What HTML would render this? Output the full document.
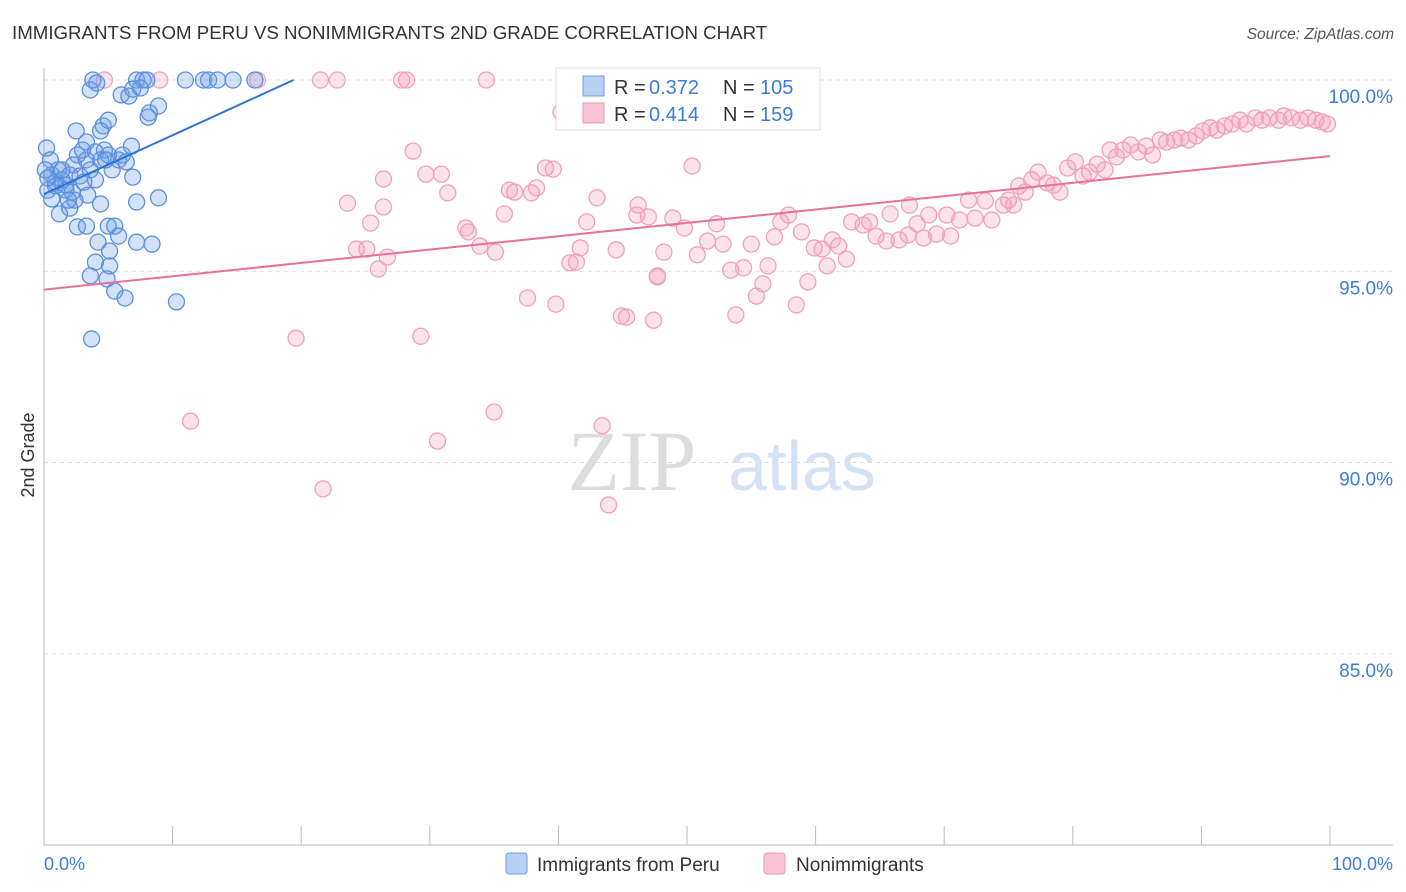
<!DOCTYPE html>
<html><head><meta charset="utf-8">
<style>
body{margin:0;background:#fff;font-family:"Liberation Sans",sans-serif;}
svg{display:block}
</style></head>
<body>
<svg id="chart" width="1406" height="892">
<text x="12" y="39" font-size="18.7" fill="#333">IMMIGRANTS FROM PERU VS NONIMMIGRANTS 2ND GRADE CORRELATION CHART</text>
<text x="1394" y="39" font-size="15.5" fill="#555" text-anchor="end" font-style="italic">Source: ZipAtlas.com</text>
<text x="0" y="0" font-size="18" fill="#333" transform="translate(34,455) rotate(-90)" text-anchor="middle">2nd Grade</text>
<g id="grid"></g>
<g id="xticks"></g>
<g>
<text x="632" y="490" font-size="86" fill="#ddd" text-anchor="middle" font-family="Liberation Serif,serif">ZIP</text>
<text x="802" y="490" font-size="70" fill="#d4e2f4" text-anchor="middle">atlas</text>
</g>
<g id="pinkPts"></g>
<g id="bluePts"></g>
<g id="trends"></g>
<g>
<rect x="556" y="68" width="264" height="62" fill="#fff" stroke="#ddd"/>
<rect x="583" y="76" width="21" height="20" fill="#b8d0f4" stroke="#6a9be0"/>
<rect x="583" y="103" width="21" height="20" fill="#f8c4d4" stroke="#eb9ab5"/>
<text x="614" y="94" font-size="20" fill="#333">R =</text>
<text x="649" y="94" font-size="20" fill="#3b7dd8">0.372</text>
<text x="723" y="94" font-size="20" fill="#333">N =</text>
<text x="760" y="94" font-size="20" fill="#3b7dd8">105</text>
<text x="614" y="121" font-size="20" fill="#333">R =</text>
<text x="649" y="121" font-size="20" fill="#3b7dd8">0.414</text>
<text x="723" y="121" font-size="20" fill="#333">N =</text>
<text x="760" y="121" font-size="20" fill="#3b7dd8">159</text>
</g>
<g>
<rect x="506" y="853" width="21" height="21" rx="3" fill="#b8d0f4" stroke="#6a9be0"/>
<text x="537" y="871" font-size="19" fill="#333">Immigrants from Peru</text>
<rect x="764" y="853" width="21" height="21" rx="3" fill="#f8c4d4" stroke="#eb9ab5"/>
<text x="796" y="871" font-size="19" fill="#333">Nonimmigrants</text>
</g>
<text x="44" y="870" font-size="18" fill="#3b7dd8">0.0%</text>
<text x="1393" y="870" font-size="18" fill="#3b7dd8" text-anchor="end">100.0%</text>
</svg>
<script>
const yTicks=[100,95,90,85];
const yTickLabels=["100.0%","95.0%","90.0%","85.0%"];
const xTicks=[0,10,20,30,40,50,60,70,80,90,100];
const pinkX=[4.7,9.0,16.6,21.5,22.8,27.8,28.2,34.4,40.2,28.7,26.4,29.7,30.9,31.4,23.6,26.4,25.4,24.3,25.1,26.7,26.0,32.8,33.0,33.9,35.1,35.8,36.2,36.6,37.9,38.3,39.0,39.6,43.0,42.2,41.7,40.9,41.4,44.5,46.1,46.2,47.0,48.9,49.8,48.2,47.7,50.4,51.6,50.8,52.3,52.8,53.4,54.4,55.0,56.8,57.3,57.9,58.9,56.3,55.9,55.4,53.8,59.4,58.5,59.9,60.5,61.3,61.8,60.9,62.4,62.8,63.7,64.2,64.7,65.8,65.5,66.5,67.3,67.2,67.9,68.4,69.4,68.8,70.2,70.5,71.2,71.9,72.4,73.2,73.7,74.6,75.0,75.4,75.8,76.3,76.8,77.3,78.0,78.5,79.0,79.6,80.2,80.8,81.3,81.9,82.5,82.9,83.4,83.9,84.5,85.1,85.7,86.2,86.8,87.3,87.9,88.4,89.0,89.6,90.1,90.7,91.2,91.8,92.4,93.0,93.5,94.2,94.7,95.3,96.0,96.4,97.0,97.7,98.3,98.9,99.4,99.8,19.6,11.4,29.3,30.6,35.0,21.7,43.4,43.9,37.6,39.8,44.9,45.3,47.4,47.7];
const pinkY=[100,100,100,100,100,100,100,100,99.16,98.14,97.41,97.54,97.54,97.05,96.78,96.68,96.26,95.58,95.58,95.37,95.06,96.13,96.03,95.66,95.50,96.50,97.12,97.07,97.05,97.18,97.70,97.67,96.92,96.29,95.61,95.22,95.24,95.56,96.47,96.73,96.42,96.39,96.13,95.50,94.88,97.75,95.79,95.43,96.24,95.71,95.03,95.09,95.71,95.90,96.29,96.47,96.03,95.14,94.67,94.35,93.86,94.72,94.12,95.61,95.58,95.82,95.66,95.14,95.32,96.29,96.21,96.29,95.92,96.50,95.79,95.82,96.73,95.95,96.24,95.87,95.97,96.47,96.47,95.92,96.34,96.86,96.39,96.84,96.34,96.73,96.86,96.73,97.23,97.07,97.39,97.59,97.31,97.25,97.07,97.70,97.86,97.49,97.59,97.80,97.65,98.17,97.99,98.17,98.30,98.12,98.27,98.04,98.43,98.38,98.43,98.48,98.43,98.54,98.67,98.75,98.69,98.80,98.85,98.95,98.85,99.01,98.95,99.01,98.95,99.06,99.01,98.95,99.01,98.95,98.90,98.85,93.25,91.08,93.30,90.56,91.32,89.31,90.96,88.89,94.30,94.14,93.83,93.80,93.72,94.85];
const blueX=[0.2,0.5,0.6,0.9,0.3,1.1,1.4,1.7,2.0,2.3,2.6,3.0,3.3,3.6,4.0,4.4,4.7,5.0,5.3,5.8,6.1,6.4,6.8,6.9,3.4,2.4,2.0,1.2,2.6,3.3,4.4,5.0,5.5,5.8,4.2,5.1,7.2,8.4,8.9,7.2,4.0,5.1,3.6,4.9,5.5,6.3,10.3,3.7,2.5,3.3,4.6,5.0,4.4,3.6,3.8,4.1,6.0,6.6,6.9,7.2,7.7,8.0,7.5,8.2,8.9,8.1,11.0,12.4,12.8,13.5,14.7,16.4,0.6,1.7,2.2,0.9,0.3,0.1,1.4,2.8,4.0,4.8,1.9,3.1];
const blueY=[98.22,97.91,97.52,97.33,97.12,97.65,97.39,97.25,97.52,97.78,98.04,98.17,97.91,97.65,97.39,97.91,98.17,98.04,97.65,97.91,98.04,97.86,98.27,97.46,96.99,96.86,96.65,96.50,96.16,96.18,96.76,96.18,96.18,95.92,95.76,95.53,95.76,95.71,96.92,96.81,95.24,95.14,94.88,94.80,94.48,94.30,94.20,93.23,98.67,98.38,98.80,98.95,98.67,99.74,100,99.92,99.61,99.58,99.76,100,100,100,99.79,99.14,99.32,99.03,100,100,100,100,100,100,96.89,97.12,97.07,97.23,97.44,97.65,97.65,97.49,98.12,97.91,96.86,97.33];
const blueTrend=[97.02,100.0];
const blueTrendX=[0,19.4];
const pinkTrend=[94.52,98.01];
const pinkTrendX=[0,100];

const X=v=>44+v*12.86;
const Y=v=>80+(100-v)*38.25;
const NS="http://www.w3.org/2000/svg";
function mk(tag,attrs,parent){const e=document.createElementNS(NS,tag);for(const k in attrs)e.setAttribute(k,attrs[k]);parent.appendChild(e);return e;}
const grid=document.getElementById('grid');
yTicks.forEach((t,i)=>{
  const l=mk('line',{x1:44,x2:1393,y1:Y(t),y2:Y(t),stroke:'#ddd','stroke-dasharray':'4,4'},grid);
  
  
  const tx=mk('text',{x:1393,y:Y(t)+23,'font-size':19,fill:'#3b7dd8','text-anchor':'end'},grid);
  tx.textContent=yTickLabels[i];
  
  
});
const ax=mk('line',{x1:44,x2:44,y1:68,y2:845,stroke:'#bbb'},grid);


const bx=mk('line',{x1:44,x2:1393,y1:845,y2:845,stroke:'#bbb'},grid);


const xt=document.getElementById('xticks');
xTicks.forEach(t=>{
  const l=mk('line',{x1:X(t),x2:X(t),y1:826,y2:845,stroke:'#bbb'},xt);
  
  
});
function pts(xs,ys,g,fill,stroke,name){
  xs.forEach((x,i)=>{
    const c=mk('circle',{cx:X(x),cy:Y(ys[i]),r:8,fill:fill,stroke:stroke,'stroke-width':1.3},g);
    
    
  });
}
pts(pinkX,pinkY,document.getElementById('pinkPts'),'rgba(244,160,190,0.3)','#f0a0bc','nonimmigrant-point');
pts(blueX,blueY,document.getElementById('bluePts'),'rgba(110,160,230,0.3)','#5a8fe0','peru-point');
const tr=document.getElementById('trends');
const bl=mk('line',{x1:X(blueTrendX[0]),y1:Y(blueTrend[0]),x2:X(blueTrendX[1]),y2:Y(blueTrend[1]),stroke:'#2f72d6','stroke-width':2},tr);


const pl=mk('line',{x1:X(pinkTrendX[0]),y1:Y(pinkTrend[0]),x2:X(pinkTrendX[1]),y2:Y(pinkTrend[1]),stroke:'#e8709a','stroke-width':2},tr);


</script>
</body></html>
